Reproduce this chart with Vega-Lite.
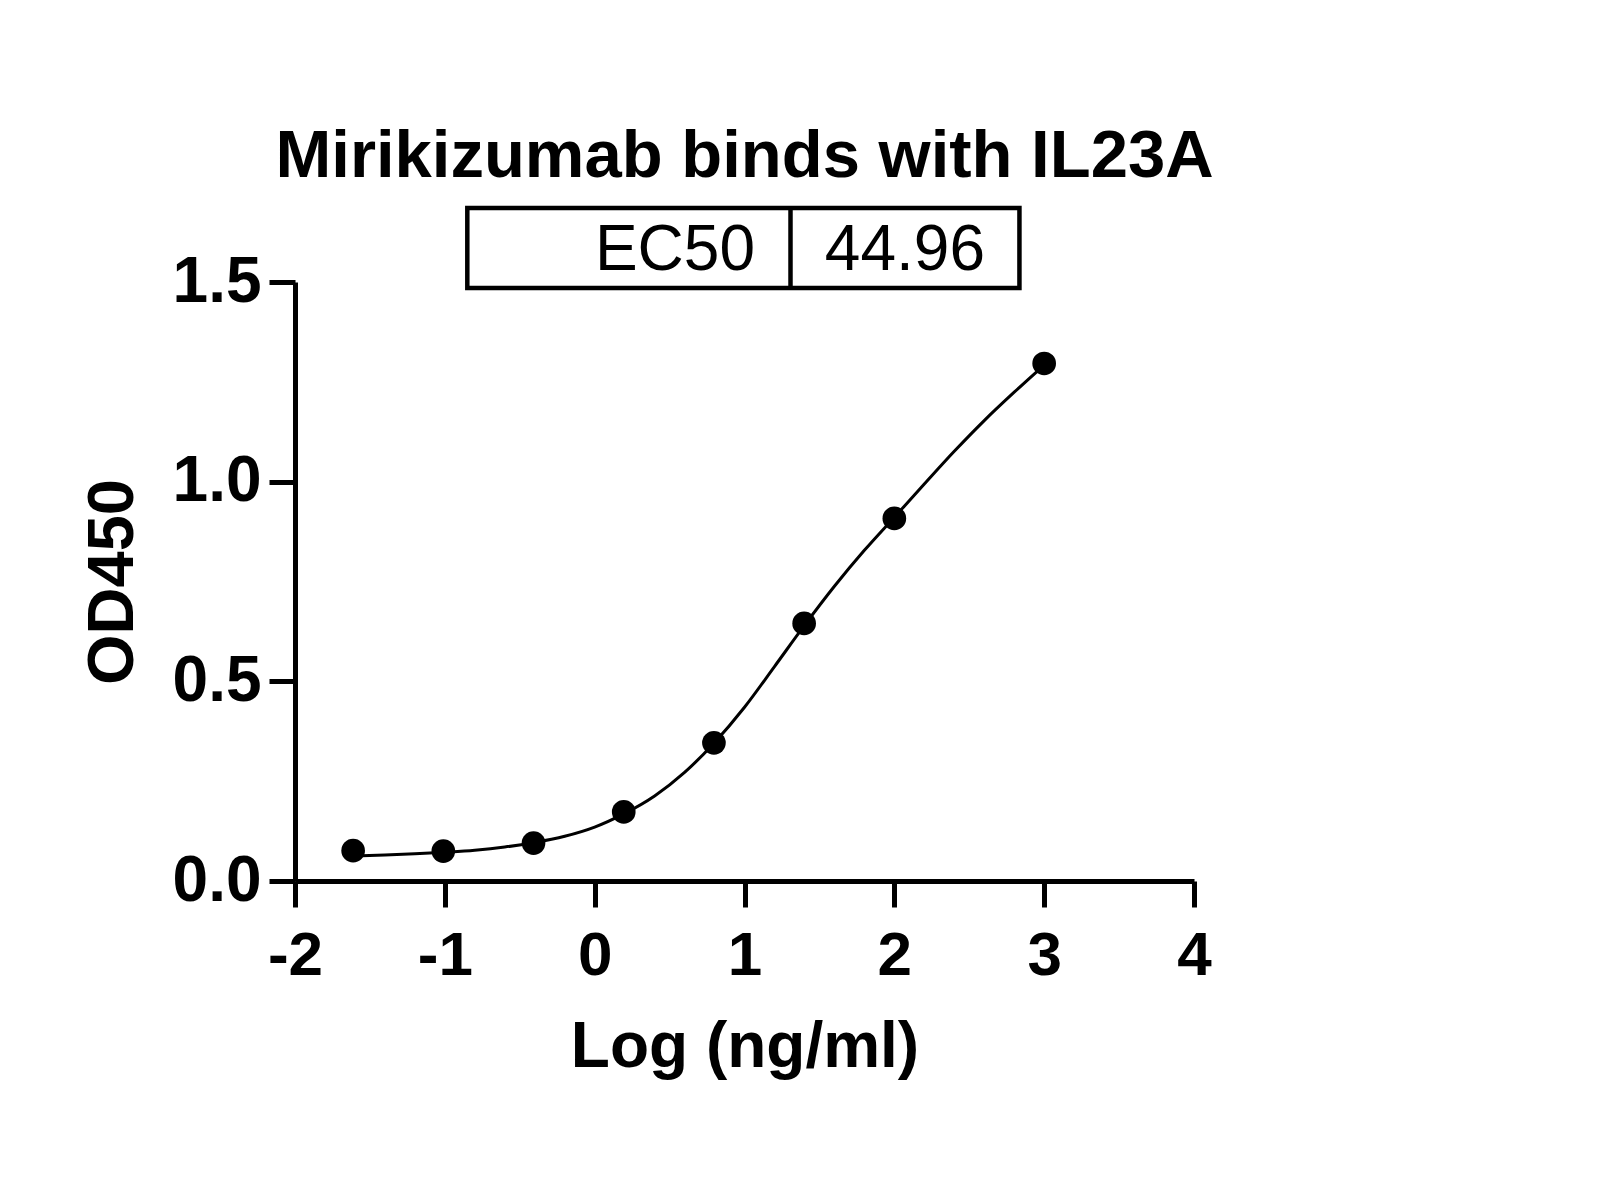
{
  "$schema": "https://vega.github.io/schema/vega-lite/v6.json",
  "width": 899,
  "height": 599,
  "autosize": {"type": "none"},
  "padding": {"left": 295, "top": 282, "right": 406, "bottom": 319},
  "background": "white",
  "title": {
    "text": "Mirikizumab binds with IL23A",
    "font": "Liberation Sans",
    "fontSize": 67,
    "fontWeight": "bold",
    "color": "black",
    "anchor": "middle",
    "frame": "group",
    "offset": 15
  },
  "datasets": {
    "points": [
      {"logc": -1.612, "od": 0.076},
      {"logc": -1.010, "od": 0.075},
      {"logc": -0.408, "od": 0.095},
      {"logc": 0.194, "od": 0.173},
      {"logc": 0.796, "od": 0.346},
      {"logc": 1.398, "od": 0.645},
      {"logc": 2.0, "od": 0.908},
      {"logc": 3.0, "od": 1.296}
    ],
    "curve": [
      {"logc": -1.612, "od": 0.063},
      {"logc": -1.4, "od": 0.065},
      {"logc": -1.2, "od": 0.068},
      {"logc": -1.0, "od": 0.072},
      {"logc": -0.8, "od": 0.077},
      {"logc": -0.6, "od": 0.085},
      {"logc": -0.408, "od": 0.096},
      {"logc": -0.2, "od": 0.112},
      {"logc": 0.0, "od": 0.135},
      {"logc": 0.194, "od": 0.168},
      {"logc": 0.4, "od": 0.213},
      {"logc": 0.6, "od": 0.272},
      {"logc": 0.796, "od": 0.345},
      {"logc": 1.0, "od": 0.435},
      {"logc": 1.2, "od": 0.537},
      {"logc": 1.4, "od": 0.640},
      {"logc": 1.6, "od": 0.738},
      {"logc": 1.8, "od": 0.828},
      {"logc": 2.0, "od": 0.911},
      {"logc": 2.2, "od": 0.994},
      {"logc": 2.4, "od": 1.076},
      {"logc": 2.6, "od": 1.153},
      {"logc": 2.8, "od": 1.224},
      {"logc": 3.0, "od": 1.292}
    ],
    "table": [{"label": "EC50", "value": "44.96"}]
  },
  "config": {
    "view": {"stroke": null},
    "axis": {
      "grid": false,
      "domainColor": "black",
      "domainWidth": 5,
      "tickColor": "black",
      "tickWidth": 5,
      "tickSize": 26,
      "labelFont": "Liberation Sans",
      "labelFontWeight": "bold",
      "labelFontSize": 62,
      "labelColor": "black",
      "labelFlush": false,
      "labelOverlap": false,
      "titleFont": "Liberation Sans",
      "titleFontWeight": "bold",
      "titleColor": "black"
    },
    "axisX": {
      "labelPadding": 18,
      "titleFontSize": 64,
      "titlePadding": 29
    },
    "axisY": {
      "labelFontSize": 64,
      "labelPadding": 8,
      "titleFontSize": 65,
      "titlePadding": 26
    }
  },
  "layer": [
    {
      "data": {"name": "curve"},
      "mark": {"type": "line", "color": "black", "strokeWidth": 3, "interpolate": "monotone", "clip": false},
      "encoding": {
        "x": {"field": "logc", "type": "quantitative", "title": "Log (ng/ml)", "scale": {"domain": [-2, 4], "nice": false, "zero": false},
              "axis": {"values": [-2, -1, 0, 1, 2, 3, 4], "labelExpr": "'' + datum.value"}},
        "y": {"field": "od", "type": "quantitative", "title": "OD450", "scale": {"domain": [0, 1.5], "nice": false},
              "axis": {"values": [0, 0.5, 1, 1.5], "format": ".1f"}}
      }
    },
    {
      "data": {"name": "points"},
      "mark": {"type": "point", "shape": "circle", "filled": true, "size": 560, "color": "black", "opacity": 1, "clip": false},
      "encoding": {
        "x": {"field": "logc", "type": "quantitative", "title": "Log (ng/ml)", "scale": {"domain": [-2, 4], "nice": false, "zero": false},
              "axis": {"values": [-2, -1, 0, 1, 2, 3, 4], "labelExpr": "'' + datum.value"}},
        "y": {"field": "od", "type": "quantitative", "title": "OD450", "scale": {"domain": [0, 1.5], "nice": false},
              "axis": {"values": [0, 0.5, 1, 1.5], "format": ".1f"}}
      }
    },
    {
      "data": {"name": "table"},
      "mark": {"type": "rect", "fill": null, "stroke": "black", "strokeWidth": 4.5, "clip": false},
      "encoding": {
        "x": {"datum": -0.85, "type": "quantitative", "title": "Log (ng/ml)",
              "axis": {"values": [-2, -1, 0, 1, 2, 3, 4], "labelExpr": "'' + datum.value"}},
        "x2": {"datum": 2.835},
        "y": {"datum": 1.485, "type": "quantitative", "title": "OD450",
              "axis": {"values": [0, 0.5, 1, 1.5], "format": ".1f"}},
        "y2": {"datum": 1.685}
      }
    },
    {
      "data": {"name": "table"},
      "mark": {"type": "rule", "color": "black", "strokeWidth": 4.5, "clip": false},
      "encoding": {
        "x": {"datum": 1.307, "type": "quantitative", "title": "Log (ng/ml)",
              "axis": {"values": [-2, -1, 0, 1, 2, 3, 4], "labelExpr": "'' + datum.value"}},
        "y": {"datum": 1.485, "type": "quantitative", "title": "OD450",
              "axis": {"values": [0, 0.5, 1, 1.5], "format": ".1f"}},
        "y2": {"datum": 1.685}
      }
    },
    {
      "data": {"name": "table"},
      "mark": {"type": "text", "font": "Liberation Sans", "fontSize": 64, "color": "black", "align": "right", "baseline": "alphabetic", "clip": false},
      "encoding": {
        "x": {"datum": 1.07, "type": "quantitative", "title": "Log (ng/ml)",
              "axis": {"values": [-2, -1, 0, 1, 2, 3, 4], "labelExpr": "'' + datum.value"}},
        "y": {"datum": 1.53, "type": "quantitative", "title": "OD450",
              "axis": {"values": [0, 0.5, 1, 1.5], "format": ".1f"}},
        "text": {"field": "label"}
      }
    },
    {
      "data": {"name": "table"},
      "mark": {"type": "text", "font": "Liberation Sans", "fontSize": 64, "color": "black", "align": "right", "baseline": "alphabetic", "clip": false},
      "encoding": {
        "x": {"datum": 2.605, "type": "quantitative", "title": "Log (ng/ml)",
              "axis": {"values": [-2, -1, 0, 1, 2, 3, 4], "labelExpr": "'' + datum.value"}},
        "y": {"datum": 1.53, "type": "quantitative", "title": "OD450",
              "axis": {"values": [0, 0.5, 1, 1.5], "format": ".1f"}},
        "text": {"field": "value"}
      }
    }
  ]
}
